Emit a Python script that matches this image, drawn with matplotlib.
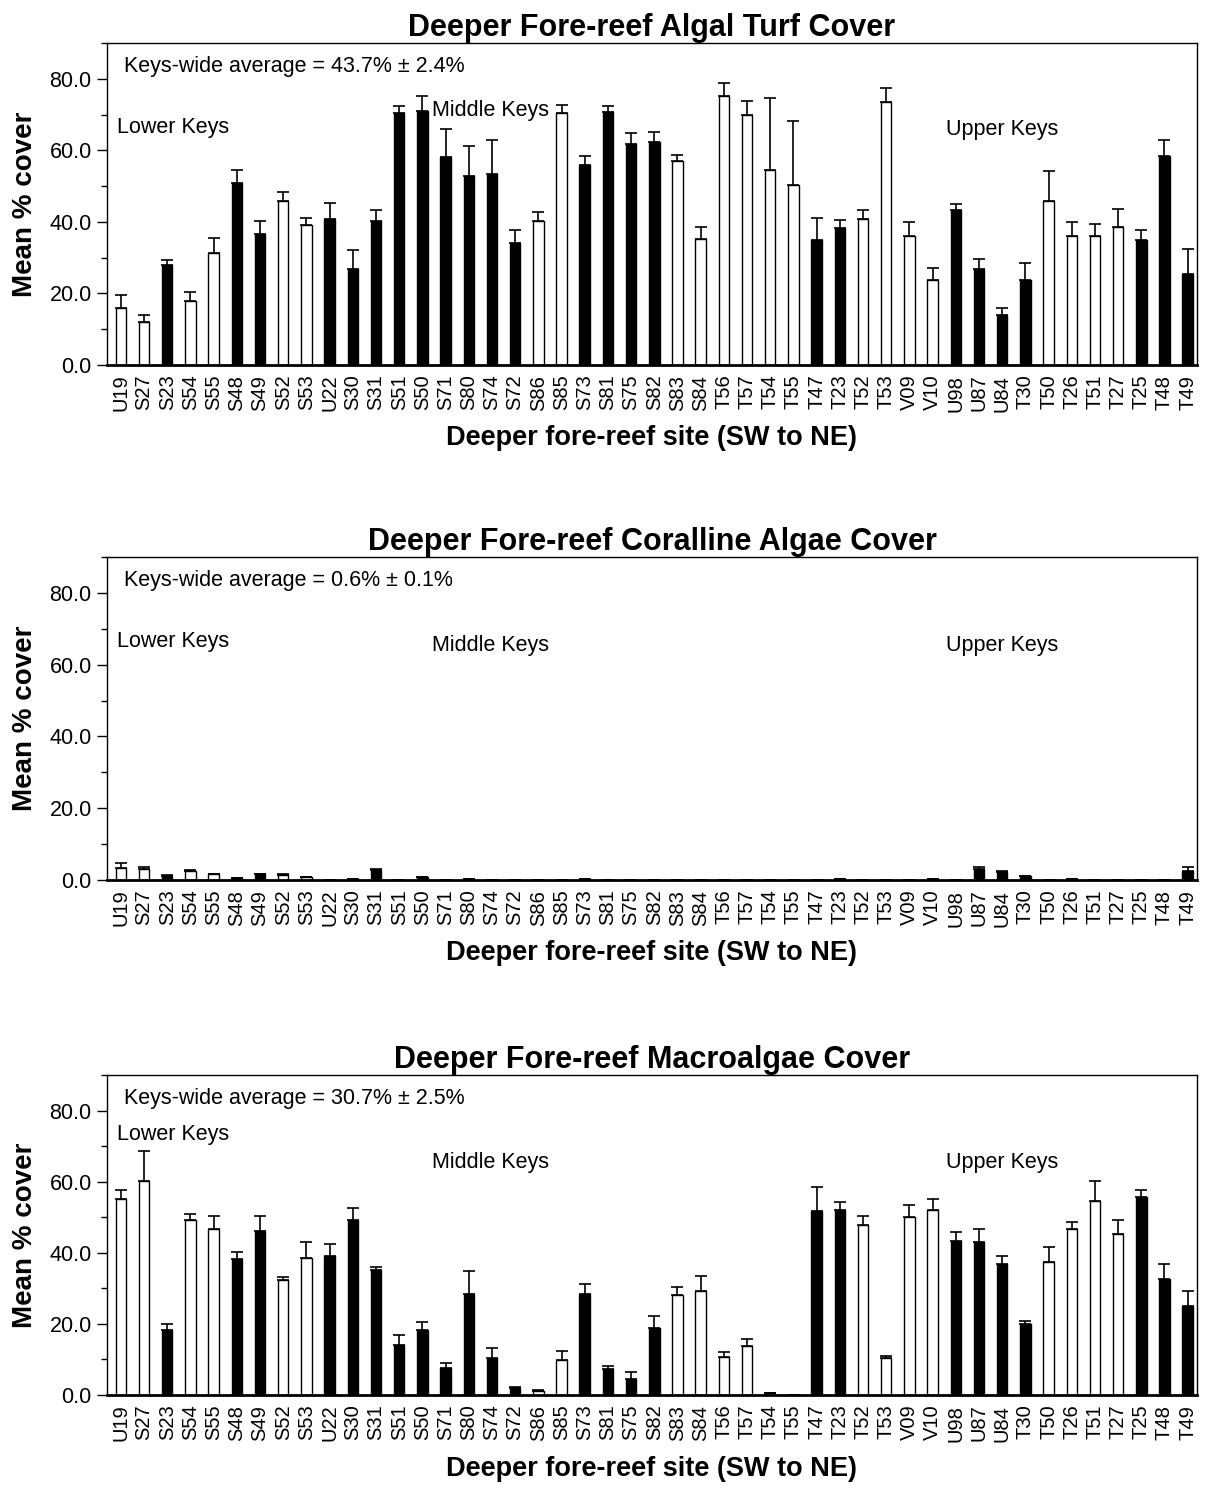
import matplotlib
matplotlib.use("Agg")
import matplotlib.pyplot as plt
from matplotlib.ticker import MultipleLocator, FormatStrFormatter

plt.rcParams["font.family"] = ["Liberation Sans", "DejaVu Sans"]

sites = ["U19", "S27", "S23", "S54", "S55", "S48", "S49", "S52", "S53", "U22",
         "S30", "S31", "S51", "S50", "S71", "S80", "S74", "S72", "S86", "S85",
         "S73", "S81", "S75", "S82", "S83", "S84", "T56", "T57", "T54", "T55",
         "T47", "T23", "T52", "T53", "V09", "V10", "U98", "U87", "U84", "T30",
         "T50", "T26", "T51", "T27", "T25", "T48", "T49"]

# 1 = black bar, 0 = white bar
black = [0, 0, 1, 0, 0, 1, 1, 0, 0, 1,
         1, 1, 1, 1, 1, 1, 1, 1, 0, 0,
         1, 1, 1, 1, 0, 0, 0, 0, 0, 0,
         1, 1, 0, 0, 0, 0, 1, 1, 1, 1,
         0, 0, 0, 0, 1, 1, 1]

turf = [15.8, 12.0, 28.0, 17.8, 31.4, 50.9, 36.5, 45.8, 39.0, 40.7,
        26.8, 40.2, 70.3, 71.1, 58.1, 52.9, 53.4, 34.0, 40.3, 70.3,
        55.9, 70.7, 61.8, 62.3, 57.1, 35.2, 75.3, 69.8, 54.6, 50.4,
        34.8, 38.2, 40.7, 73.6, 36.0, 23.8, 43.2, 26.8, 14.1, 23.8,
        45.8, 36.0, 36.0, 38.6, 34.8, 58.4, 25.5]
turf_se = [3.7, 2.1, 1.2, 2.6, 4.2, 3.6, 3.7, 2.5, 2.0, 4.6,
           5.4, 3.0, 2.0, 4.1, 7.9, 8.4, 9.6, 3.7, 2.5, 2.4,
           2.5, 1.6, 2.9, 2.9, 1.7, 3.4, 3.4, 3.9, 19.9, 17.7,
           6.3, 2.4, 2.5, 3.8, 3.9, 3.4, 1.7, 2.9, 1.7, 4.6,
           8.4, 3.9, 3.4, 5.1, 2.9, 4.6, 6.8]

coralline = [3.3, 3.1, 1.2, 2.6, 1.7, 0.5, 1.7, 1.4, 0.75, 0.0,
             0.4, 2.9, 0.0, 0.7, 0.0, 0.4, 0.0, 0.0, 0.0, 0.0,
             0.4, 0.0, 0.0, 0.0, 0.0, 0.0, 0.0, 0.0, 0.0, 0.0,
             0.0, 0.3, 0.0, 0.0, 0.0, 0.3, 0.0, 3.1, 2.2, 1.2,
             0.0, 0.4, 0.0, 0.0, 0.0, 0.0, 2.6]
coralline_se = [1.5, 0.4, 0.1, 0.3, 0.1, 0.0, 0.1, 0.3, 0.15, 0.0,
                0.0, 0.1, 0.0, 0.1, 0.0, 0.0, 0.0, 0.0, 0.0, 0.0,
                0.0, 0.0, 0.0, 0.0, 0.0, 0.0, 0.0, 0.0, 0.0, 0.0,
                0.0, 0.0, 0.0, 0.0, 0.0, 0.0, 0.0, 0.4, 0.2, 0.0,
                0.0, 0.0, 0.0, 0.0, 0.0, 0.0, 0.9]

macro = [55.0, 60.1, 18.4, 49.2, 46.7, 38.2, 46.2, 32.3, 38.6, 39.0,
         49.2, 35.2, 14.1, 18.4, 7.7, 28.5, 10.3, 2.1, 1.1, 9.8,
         28.5, 7.3, 4.4, 18.8, 28.1, 29.3, 10.7, 13.7, 0.6, 0.0,
         51.7, 52.1, 47.9, 10.3, 50.0, 52.1, 43.2, 42.9, 36.9, 20.0,
         37.3, 46.6, 54.6, 45.4, 55.6, 32.7, 25.1]
macro_se = [2.6, 8.5, 1.6, 1.7, 3.7, 2.1, 4.2, 0.8, 4.3, 3.4,
            3.4, 0.8, 2.9, 2.0, 1.3, 6.3, 3.0, 0.2, 0.3, 2.5,
            2.8, 0.8, 2.0, 3.3, 2.4, 4.2, 1.3, 2.1, 0.1, 0.0,
            6.7, 2.1, 2.5, 0.8, 3.4, 3.0, 2.6, 3.7, 2.1, 0.9,
            4.2, 2.1, 5.5, 3.8, 2.0, 4.2, 4.2]

titles = ["Deeper Fore-reef Algal Turf Cover",
          "Deeper Fore-reef Coralline Algae Cover",
          "Deeper Fore-reef Macroalgae Cover"]
averages = ["Keys-wide average = 43.7% \u00b1 2.4%",
            "Keys-wide average = 0.6% \u00b1 0.1%",
            "Keys-wide average = 30.7% \u00b1 2.5%"]
# region label heights (in % cover) for Lower / Middle / Upper Keys
region_y = [[66.5, 71.0, 65.7], [66.5, 65.4, 65.4], [73.3, 65.4, 65.4]]
region_x = [-0.15, 13.4, 35.6]
region_names = ["Lower Keys", "Middle Keys", "Upper Keys"]

data = [(turf, turf_se), (coralline, coralline_se), (macro, macro_se)]
panel_boxes = [[0.0887, 0.7554, 0.9038, 0.2158],
               [0.0887, 0.4102, 0.9038, 0.2165],
               [0.0887, 0.0650, 0.9038, 0.2145]]

fig = plt.figure(figsize=(12.06, 14.92), dpi=100)
x = list(range(len(sites)))
colors = ["black" if b else "white" for b in black]

for k in range(3):
    ax = fig.add_axes(panel_boxes[k])
    vals, se = data[k]
    ax.bar(x, vals, width=0.45, color=colors, edgecolor="black", linewidth=1.0,
           zorder=2)
    ax.errorbar(x, vals, yerr=[[0] * len(se), se], fmt="none", ecolor="black",
                elinewidth=1.2, capsize=4, capthick=1.2, zorder=3)

    ax.set_xlim(-0.6, 46.4)
    ax.set_ylim(0, 90)
    ax.yaxis.set_major_locator(MultipleLocator(20))
    ax.yaxis.set_minor_locator(MultipleLocator(10))
    ax.yaxis.set_major_formatter(FormatStrFormatter("%.1f"))
    ax.tick_params(axis="y", which="major", direction="out", length=7,
                   width=1, labelsize=15.5, pad=4)
    ax.tick_params(axis="y", which="minor", direction="out", length=4, width=1)
    ax.set_xticks(x)
    ax.set_xticklabels(sites, rotation=90, fontsize=14.5)
    ax.tick_params(axis="x", length=0, pad=7)
    for s in ax.spines.values():
        s.set_linewidth(1.0)
    ax.spines["bottom"].set_linewidth(2.0)

    ax.set_title(titles[k], fontsize=22, fontweight="bold", pad=5)
    ax.set_ylabel("Mean % cover", fontsize=20, fontweight="bold", labelpad=8)
    ax.set_xlabel("Deeper fore-reef site (SW to NE)", fontsize=19.5,
                  fontweight="bold", labelpad=10)

    ax.text(0.016, 0.96, averages[k], transform=ax.transAxes, fontsize=15.5,
            va="top", ha="left")
    for j in range(3):
        ax.text(region_x[j], region_y[k][j], region_names[j], fontsize=15.5,
                va="center", ha="left")

fig.savefig("out.png", dpi=100)
